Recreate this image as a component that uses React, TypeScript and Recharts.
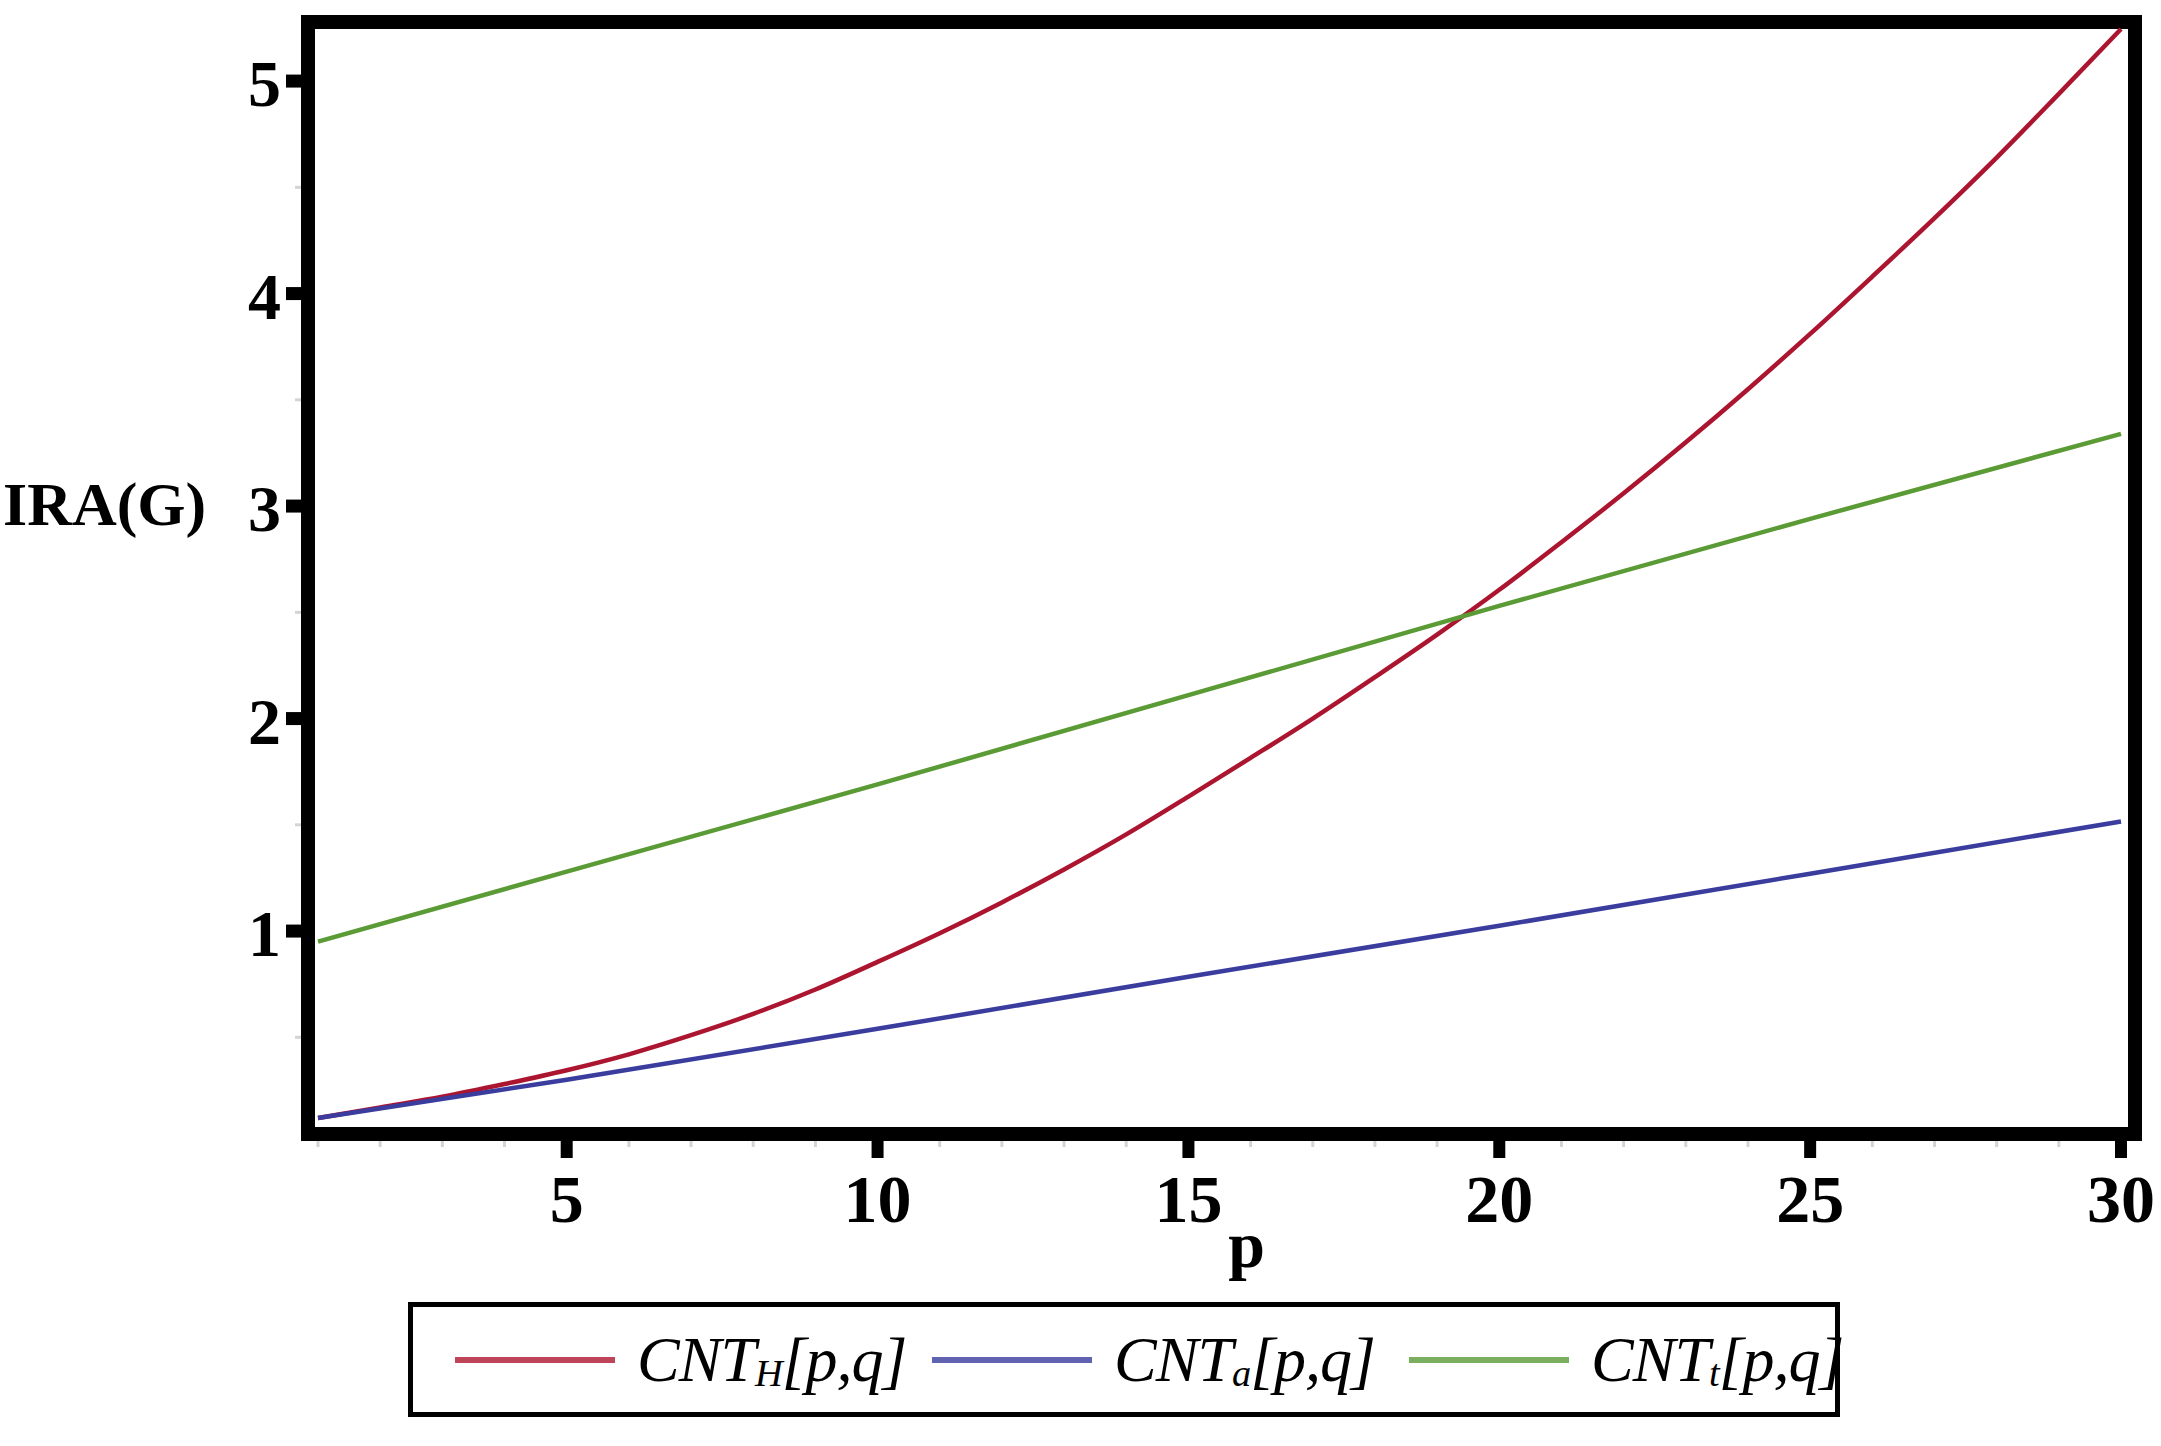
import React from 'react';
import { LineChart, Line, XAxis, YAxis, ReferenceArea } from 'recharts';

// ---- data ----
const P_FULL = [1, 2, 3, 4, 5, 6, 7, 8, 9, 10, 11, 12, 13, 14, 15, 16, 17, 18, 19, 20, 21, 22, 23, 24, 25, 26, 27, 28, 29, 30];
const CNT_H_VALUES = [0.12, 0.17, 0.22, 0.28, 0.345, 0.42, 0.51, 0.61, 0.725, 0.855, 0.99, 1.135, 1.29, 1.455, 1.633, 1.815, 2.0, 2.195, 2.395, 2.606, 2.83, 3.06, 3.3, 3.55, 3.81, 4.08, 4.355, 4.64, 4.94, 5.245];
const P_SAMPLED = [1, 5, 10, 15, 20, 25, 30];
const CNT_A_VALUES = [0.12, 0.3, 0.54, 0.785, 1.025, 1.27, 1.516];
const CNT_T_VALUES = [0.95, 1.28, 1.69, 2.11, 2.53, 2.94, 3.34];

const X_TICKS_MINOR = [1, 2, 3, 4, 5, 6, 7, 8, 9, 10, 11, 12, 13, 14, 15, 16, 17, 18, 19, 20, 21, 22, 23, 24, 25, 26, 27, 28, 29, 30];
const X_TICK_LABELS = [5, 10, 15, 20, 25, 30];
const Y_TICKS_ALL = [0.5, 1, 1.5, 2, 2.5, 3, 3.5, 4, 4.5, 5];
const Y_TICK_LABELS = [1, 2, 3, 4, 5];
const X_DOMAIN: [number, number] = [0.839, 30.225];
const Y_DOMAIN: [number, number] = [0.045, 5.278];

const SERIES = [
  { key: 'H', name: 'CNT', sub: 'H', color: '#AC1530', xs: P_FULL, ys: CNT_H_VALUES, type: 'monotone' },
  { key: 'a', name: 'CNT', sub: 'a', color: '#3A3C9E', xs: P_SAMPLED, ys: CNT_A_VALUES, type: 'linear' },
  { key: 't', name: 'CNT', sub: 't', color: '#5B9B35', xs: P_SAMPLED, ys: CNT_T_VALUES, type: 'linear' },
];

const SERIF = "'Liberation Serif', 'Times New Roman', serif";

const XTick = (props: any) => {
  const { x, y, payload } = props;
  const v = payload.value;
  if (!X_TICK_LABELS.includes(v)) {
    return <line x1={x} x2={x} y1={y + 7} y2={y + 13} stroke="#d4d4d4" strokeWidth={3} />;
  }
  return (
    <g>
      <line x1={x} x2={x} y1={y + 7} y2={y + 24} stroke="#000" strokeWidth={12} />
      <text x={x} y={y + 88} textAnchor="middle" fontFamily={SERIF} fontWeight="bold" fontSize={68} fill="#000">
        {v}
      </text>
    </g>
  );
};

const YTick = (props: any) => {
  const { x, y, payload } = props;
  const v = payload.value;
  if (!Y_TICK_LABELS.includes(v)) {
    return <line x1={x - 7} x2={x - 13} y1={y} y2={y} stroke="#d4d4d4" strokeWidth={3} />;
  }
  return (
    <g>
      <line x1={x - 7} x2={x - 22} y1={y} y2={y} stroke="#000" strokeWidth={13} />
      <text x={x - 27} y={y + 25} textAnchor="end" fontFamily={SERIF} fontWeight="bold" fontSize={66} fill="#000">
        {v}
      </text>
    </g>
  );
};

const YTitle = (props: any) => {
  const vb = props.viewBox || { x: 8, y: 22, width: 300, height: 1112 };
  return (
    <text x={vb.x - 5} y={vb.y + 503} textAnchor="start" fontFamily={SERIF} fontWeight="bold" fontSize={62} fill="#000">
      IRA(G)
    </text>
  );
};

const XTitle = (props: any) => {
  const vb = props.viewBox || { x: 308, y: 1134, width: 1827, height: 300 };
  return (
    <text x={vb.x + vb.width / 2 + 25} y={vb.y + 133} textAnchor="middle" fontFamily={SERIF} fontWeight="bold" fontSize={66} fill="#000">
      p
    </text>
  );
};

export default function App() {
  const seriesData = SERIES.map((s) => ({
    ...s,
    data: s.xs.map((p, i) => ({ p, v: s.ys[i] })),
  }));

  return (
    <div style={{ position: 'absolute', left: 0, top: 0, width: 2161, height: 1446, background: '#fff' }}>
      <LineChart width={2161} height={1446} margin={{ top: 22, right: 26, bottom: 12, left: 8 }}>
        <XAxis
          dataKey="p"
          type="number"
          domain={X_DOMAIN}
          allowDataOverflow
          ticks={X_TICKS_MINOR}
          interval={0}
          tickSize={0}
          tickMargin={0}
          axisLine={false}
          tickLine={false}
          tick={<XTick />}
          height={300}
          label={<XTitle />}
        />
        <YAxis
          type="number"
          domain={Y_DOMAIN}
          allowDataOverflow
          ticks={Y_TICKS_ALL}
          interval={0}
          tickSize={0}
          tickMargin={0}
          axisLine={false}
          tickLine={false}
          tick={<YTick />}
          width={300}
          label={<YTitle />}
        />
        <ReferenceArea
          x1={X_DOMAIN[0]}
          x2={X_DOMAIN[1]}
          y1={Y_DOMAIN[0]}
          y2={Y_DOMAIN[1]}
          fill="none"
          fillOpacity={0}
          stroke="#000"
          strokeWidth={14}
          ifOverflow="visible"
        />
        {seriesData.map((s) => (
          <Line
            key={s.key}
            data={s.data}
            dataKey="v"
            type={s.type as any}
            stroke={s.color}
            strokeWidth={4.5}
            dot={false}
            activeDot={false}
            isAnimationActive={false}
            name={s.name + s.sub}
          />
        ))}
      </LineChart>
      <div
        style={{
          position: 'absolute',
          left: 408,
          top: 1302,
          width: 1432,
          height: 115,
          border: '5px solid #000',
          boxSizing: 'border-box',
          display: 'flex',
          alignItems: 'center',
          paddingLeft: 42,
          background: '#fff',
        }}
      >
        {SERIES.map((s, i) => (
          <div key={s.key} style={{ display: 'flex', alignItems: 'center', marginLeft: i === 0 ? 0 : 40 }}>
            <svg width={160} height={12} style={{ display: 'block' }}>
              <line x1={0} x2={160} y1={6} y2={6} stroke={s.color} strokeWidth={6} strokeOpacity={0.8} />
            </svg>
            <span
              style={{
                marginLeft: 22,
                fontFamily: SERIF,
                fontStyle: 'italic',
                fontSize: 64,
                lineHeight: 1,
                color: '#000',
                whiteSpace: 'nowrap',
                width: 255,
                display: 'inline-block',
                letterSpacing: -1,
              }}
            >
              {s.name}
              <sub style={{ fontSize: '0.6em', verticalAlign: '-0.12em' }}>{s.sub}</sub>
              [p,q]
            </span>
          </div>
        ))}
      </div>
    </div>
  );
}
